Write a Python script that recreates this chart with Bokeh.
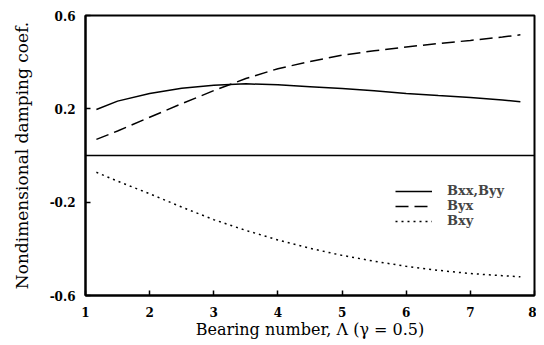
from bokeh.plotting import figure
from bokeh.models import Span, Legend, LegendItem, FixedTicker
from bokeh.embed import file_html
from bokeh.resources import INLINE

bearing = [1.17, 1.5, 2.0, 2.5, 3.0, 3.5, 4.0, 4.5, 5.0, 5.5, 6.0, 6.5, 7.0, 7.5, 7.78]
bxx_byy = [0.197, 0.233, 0.266, 0.288, 0.301, 0.307, 0.303, 0.295, 0.287, 0.277, 0.266, 0.257, 0.249, 0.238, 0.230]
byx = [0.069, 0.105, 0.164, 0.222, 0.278, 0.330, 0.372, 0.403, 0.430, 0.449, 0.465, 0.480, 0.493, 0.508, 0.517]
bxy = [-0.072, -0.110, -0.164, -0.221, -0.275, -0.321, -0.362, -0.398, -0.428, -0.453, -0.475, -0.492, -0.506, -0.515, -0.520]

x_ticks = [1, 2, 3, 4, 5, 6, 7, 8]
y_ticks = [-0.6, -0.2, 0.2, 0.6]
labels = ["Bxx,Byy", "Byx", "Bxy"]

p = figure(width=536, height=341, x_range=(1, 8), y_range=(-0.6, 0.6),
           output_backend="svg", toolbar_location=None,
           min_border_left=85, min_border_right=2, min_border_top=15, min_border_bottom=45)

p.xgrid.visible = False
p.ygrid.visible = False
p.outline_line_color = "black"
p.outline_line_width = 2

FONT = "DejaVu Serif"
for ax in (p.xaxis[0], p.yaxis[0]):
    ax.axis_line_width = 2
    ax.major_tick_in = 5
    ax.major_tick_out = 0
    ax.minor_tick_in = 0
    ax.minor_tick_out = 0
    ax.major_tick_line_width = 1.5
    ax.major_label_text_font = FONT
    ax.major_label_text_font_style = "bold"
    ax.major_label_text_font_size = "12px"
    ax.major_label_text_color = "black"
    ax.axis_label_text_font = FONT
    ax.axis_label_text_font_style = "normal"
    ax.axis_label_text_color = "black"

p.xaxis.axis_label_text_font_size = "16px"
p.yaxis.axis_label_text_font_size = "17px"

p.xaxis.ticker = FixedTicker(ticks=x_ticks)
p.yaxis.ticker = FixedTicker(ticks=y_ticks)
p.yaxis.major_label_overrides = {-0.6: "-0.6", -0.2: "-0.2", 0.2: "0.2", 0.6: "0.6"}
p.xaxis.major_label_standoff = 11
p.yaxis.major_label_standoff = 10
p.xaxis.axis_label = "Bearing number, \u039b (\u03b3 = 0.5)"
p.yaxis.axis_label = "Nondimensional damping coef."
p.xaxis.axis_label_standoff = 0
p.yaxis.axis_label_standoff = 15

p.add_layout(Span(location=0, dimension="width", line_color="black", line_width=1.5))

r1 = p.line(bearing, bxx_byy, line_color="black", line_width=1.5)
r2 = p.line(bearing, byx, line_color="black", line_width=1.5, line_dash="13 6")
r3 = p.line(bearing, bxy, line_color="black", line_width=1.5, line_dash="2 4")

legend = Legend(items=[LegendItem(label=labels[0], renderers=[r1]),
                       LegendItem(label=labels[1], renderers=[r2]),
                       LegendItem(label=labels[2], renderers=[r3])],
                location=(310, 67))
legend.background_fill_alpha = 0
legend.border_line_color = None
legend.padding = 0
legend.margin = 0
legend.spacing = 0
legend.glyph_width = 37
legend.glyph_height = 12
legend.label_height = 12
legend.label_standoff = 15
legend.label_text_font = FONT
legend.label_text_font_style = "bold"
legend.label_text_font_size = "13px"
p.add_layout(legend)

open("out.html", "w").write(file_html(p, INLINE))
